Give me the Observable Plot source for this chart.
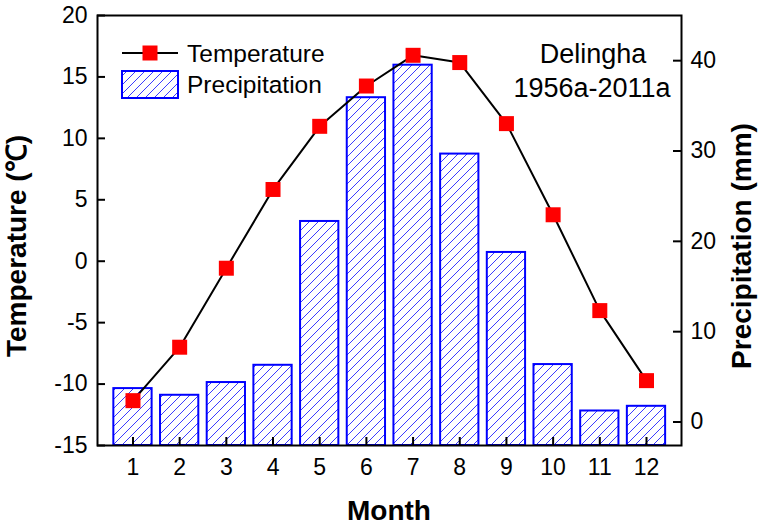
<!DOCTYPE html>
<html><head><meta charset="utf-8">
<script src="https://cdn.jsdelivr.net/npm/d3@7"></script>
<script src="https://cdn.jsdelivr.net/npm/@observablehq/plot@0.6"></script>
<style>
html,body{margin:0;padding:0;background:#fff;}
#chart{position:relative;width:762px;height:526px;font-family:"Liberation Sans",Arial,sans-serif;}
#chart svg{position:absolute;left:0;top:0;}
</style></head><body><div id="chart"></div>
<svg width="0" height="0" style="position:absolute">
  <defs>
    <pattern id="hatch" patternUnits="userSpaceOnUse" width="9" height="9">
      <rect width="9" height="9" fill="#ffffff"></rect>
      <path d="M-2,2L2,-2M0,9L9,0M7,11L11,7" fill="none" stroke="#3c3cff" stroke-width="1"></path>
    </pattern>
  </defs>
</svg>
<script>
// ---- data ----
const months = [1,2,3,4,5,6,7,8,9,10,11,12];
const temperature = [-11.35,-7.0,-0.57,5.84,10.98,14.26,16.76,16.17,11.2,3.78,-4.02,-9.72];
const precipitation = [3.7,2.96,4.37,6.28,22.2,35.9,39.5,29.66,18.77,6.36,1.22,1.74];
const tempTicks = [-15,-10,-5,0,5,10,15,20];
const precipTicks = [0,10,20,30,40];
const tempDomain = [-15,20];
const precipDomain = [-2.6,45];
const monthDomain = [0.24,12.75];
const barHalf = 0.41;

const rows = months.map((m,i)=>({month:m, temp:temperature[i], precip:precipitation[i]}));

const W=762,H=526,mL=97,mR=81,mT=15,mB=81;
const fw=W-mL-mR, fh=H-mT-mB;
const font='"Liberation Sans",Arial,sans-serif';
const base = {width:W,height:H,marginLeft:mL,marginRight:mR,marginTop:mT,marginBottom:mB,
  style:{background:"transparent",fontFamily:font,fontSize:"23px",color:"#000",overflow:"visible"}};

// back layer: precipitation bars + right axis
const back = Plot.plot({...base,
  x:{domain:monthDomain, axis:null},
  y:{domain:precipDomain},
  marks:[
    Plot.rectY(rows,{x1:d=>d.month-barHalf,x2:d=>d.month+barHalf,y1:precipDomain[0],y2:"precip",
      fill:"url(#hatch)",stroke:"#0000ff",strokeWidth:2}),
    Plot.axisY(precipTicks,{anchor:"right",tickSize:0,tickPadding:9,label:null,fontSize:23,tickFormat:d=>String(d)}),
    Plot.tickY(precipTicks,{y:d=>d,insetLeft:fw-8,stroke:"#000",strokeWidth:2})
  ]});

// front layer: temperature line + left/bottom axes + frame
const front = Plot.plot({...base,
  x:{domain:monthDomain},
  y:{domain:tempDomain},
  marks:[
    Plot.line(rows,{x:"month",y:"temp",stroke:"#000",strokeWidth:2}),
    Plot.dot(rows,{x:"month",y:"temp",symbol:"square",r:8.46,fill:"#ff0000",stroke:"none"}),
    Plot.axisY(tempTicks,{anchor:"left",tickSize:0,tickPadding:10,label:null,fontSize:23,tickFormat:d=>String(d)}),
    Plot.tickY(tempTicks,{y:d=>d,insetRight:fw-8,stroke:"#000",strokeWidth:2}),
    Plot.axisX(months,{anchor:"bottom",tickSize:0,tickPadding:13,label:null,fontSize:23,tickFormat:d=>String(d)}),
    Plot.tickX(months,{x:d=>d,insetTop:fh-8,stroke:"#000",strokeWidth:2}),
    Plot.frame({stroke:"#000",strokeWidth:2})
  ]});

const chart = document.getElementById("chart");
chart.appendChild(back);
chart.appendChild(front);

// titles
const fs = d3.select(front);
const addText = (sel, txt, opts) => {
  const t = sel.append("text").attr("font-family",font).attr("text-anchor",opts.anchor||"start")
    .attr("font-size",opts.size).attr("fill","#000").text(txt);
  if (opts.bold) t.attr("font-weight","bold");
  if (opts.transform) t.attr("transform",opts.transform); else t.attr("x",opts.x).attr("y",opts.y);
  return t;
};
addText(fs,"Month",{x:389,y:520,anchor:"middle",size:28,bold:true});
addText(fs,"Temperature (℃)",{transform:"translate(26,246) rotate(-90)",anchor:"middle",size:28,bold:true});
addText(fs,"Precipitation (mm)",{transform:"translate(751,246) rotate(-90)",anchor:"middle",size:28,bold:true});

// station annotation
addText(fs,"Delingha",{x:593,y:63,anchor:"middle",size:27});
addText(fs,"1956a-2011a",{x:592,y:97,anchor:"middle",size:27});

// legend
const lg = fs.append("g");
lg.append("line").attr("x1",122).attr("x2",178).attr("y1",53).attr("y2",53).attr("stroke","#000").attr("stroke-width",2);
lg.append("rect").attr("x",142.5).attr("y",45.5).attr("width",15).attr("height",15).attr("fill","#ff0000");
addText(lg,"Temperature",{x:187,y:62,size:24.5});
lg.append("rect").attr("x",122).attr("y",71).attr("width",56).attr("height",27).attr("fill","url(#hatch)")
  .attr("stroke","#0000ff").attr("stroke-width",2);
addText(lg,"Precipitation",{x:187,y:93,size:24.5});
</script></body></html>
